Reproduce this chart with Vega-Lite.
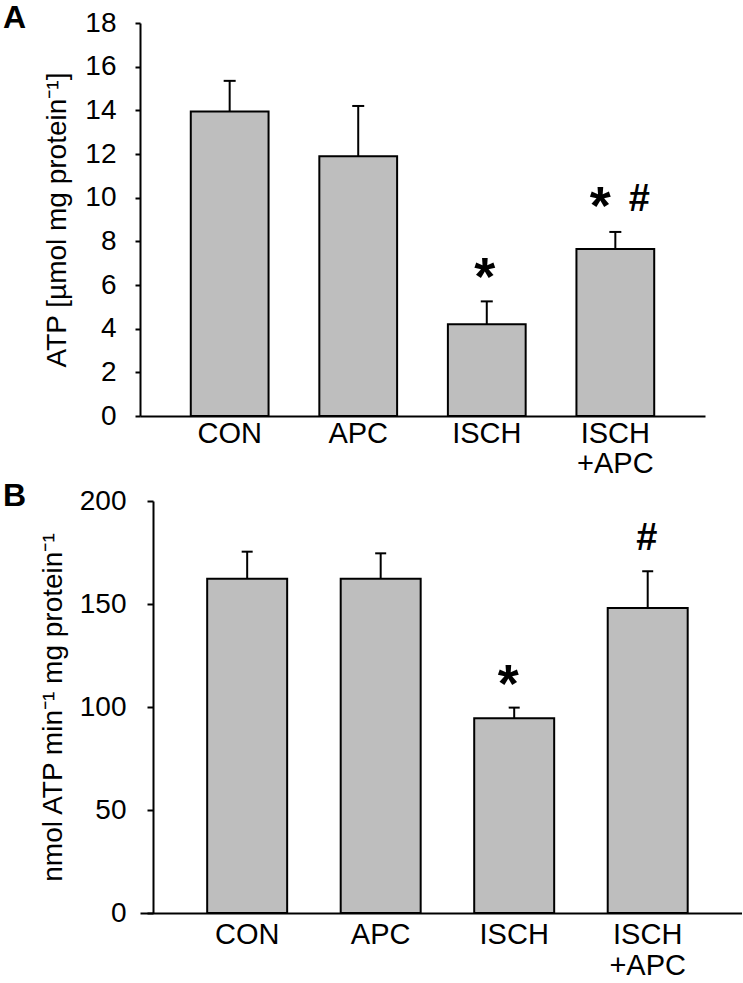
{
  "$schema": "https://vega.github.io/schema/vega-lite/v6.json",
  "padding": {"left": 3, "top": 2, "right": 0, "bottom": 0},
  "spacing": 2,
  "config": {
    "view": {"stroke": null},
    "font": "Liberation Sans",
    "axis": {
      "grid": false,
      "domainColor": "#000",
      "domainWidth": 2,
      "tickColor": "#000",
      "tickWidth": 2,
      "labelColor": "#000",
      "titleColor": "#000",
      "labelFont": "Liberation Sans",
      "titleFont": "Liberation Sans",
      "labelFontSize": 28,
      "titleFontSize": 28,
      "titleFontWeight": "normal"
    }
  },
  "datasets": {
    "atp": [
      {"group": "CON", "mean": 13.95, "upper": 15.35, "note": ""},
      {"group": "APC", "mean": 11.9, "upper": 14.2, "note": ""},
      {"group": "ISCH", "mean": 4.2, "upper": 5.25, "note": "*"},
      {"group": "ISCH+APC", "mean": 7.65, "upper": 8.43, "note": "* #"}
    ],
    "atpase": [
      {"group": "CON", "mean": 162.3, "upper": 175.4, "note": ""},
      {"group": "APC", "mean": 162.3, "upper": 174.6, "note": ""},
      {"group": "ISCH", "mean": 94.5, "upper": 99.7, "note": "*"},
      {"group": "ISCH+APC", "mean": 148.1, "upper": 165.9, "note": "#"}
    ]
  },
  "vconcat": [
    {
      "width": 565,
      "height": 393,
      "title": {"text": "A", "anchor": "start", "frame": "group", "dx": -137, "offset": -26, "fontSize": 32, "fontWeight": "bold", "color": "#000", "font": "Liberation Sans"},
      "data": {"name": "atp"},
      "encoding": {
        "x": {
          "field": "group", "type": "nominal", "sort": null,
          "scale": {"paddingInner": 0.395, "paddingOuter": 0.395},
          "axis": {"title": null, "labelAngle": 0, "ticks": false, "tickSize": 0, "labelPadding": 3, "labelBaseline": "top", "labelFontSize": 29, "labelLineHeight": 30,
                   "labelExpr": "datum.value == 'ISCH+APC' ? ['ISCH', '+APC'] : datum.value"}
        }
      },
      "layer": [
        {
          "mark": {"type": "bar", "fill": "#bebebe", "stroke": "#000", "strokeWidth": 2},
          "encoding": {
            "y": {"field": "mean", "type": "quantitative", "scale": {"domain": [0, 18], "nice": false},
                  "axis": {"title": "ATP [µmol mg protein⁻¹]", "values": [0, 2, 4, 6, 8, 10, 12, 14, 16, 18], "tickSize": 5, "labelPadding": 19, "titlePadding": 13}}
          }
        },
        {
          "mark": {"type": "rule", "color": "#000", "strokeWidth": 2},
          "encoding": {"y": {"field": "mean", "type": "quantitative"}, "y2": {"field": "upper"}}
        },
        {
          "mark": {"type": "tick", "color": "#000", "size": 12, "thickness": 2, "opacity": 1},
          "encoding": {"y": {"field": "upper", "type": "quantitative"}}
        },
        {
          "transform": [{"filter": "datum.note == '*'"}],
          "mark": {"type": "text", "text": "*", "fontSize": 54, "fontWeight": "bold", "baseline": "alphabetic", "dx": -2, "dy": -6, "color": "#000"},
          "encoding": {"y": {"field": "upper", "type": "quantitative"}}
        },
        {
          "transform": [{"filter": "datum.note == '* #'"}],
          "mark": {"type": "text", "text": "*", "fontSize": 54, "fontWeight": "bold", "baseline": "alphabetic", "dx": -15, "dy": -8, "color": "#000"},
          "encoding": {"y": {"field": "upper", "type": "quantitative"}}
        },
        {
          "transform": [{"filter": "datum.note == '* #'"}],
          "mark": {"type": "text", "text": "#", "fontSize": 38, "fontWeight": "bold", "baseline": "alphabetic", "dx": 24, "dy": -21, "color": "#000"},
          "encoding": {"y": {"field": "upper", "type": "quantitative"}}
        }
      ]
    },
    {
      "width": 602,
      "height": 412,
      "title": {"text": "B", "anchor": "start", "frame": "group", "dx": -137, "offset": -26, "fontSize": 32, "fontWeight": "bold", "color": "#000", "font": "Liberation Sans"},
      "data": {"name": "atpase"},
      "encoding": {
        "x": {
          "field": "group", "type": "nominal", "sort": null,
          "scale": {"paddingInner": 0.401, "paddingOuter": 0.455, "align": 0.553},
          "axis": {"title": null, "labelAngle": 0, "ticks": false, "tickSize": 0, "labelPadding": 7, "labelBaseline": "top", "labelFontSize": 29, "labelLineHeight": 31,
                   "labelExpr": "datum.value == 'ISCH+APC' ? ['ISCH', '+APC'] : datum.value"}
        }
      },
      "layer": [
        {
          "mark": {"type": "bar", "fill": "#bebebe", "stroke": "#000", "strokeWidth": 2},
          "encoding": {
            "y": {"field": "mean", "type": "quantitative", "scale": {"domain": [0, 200], "nice": false},
                  "axis": {"title": "nmol ATP min⁻¹  mg protein⁻¹", "values": [0, 50, 100, 150, 200], "offset": -13, "tickSize": 6, "labelPadding": 21, "titlePadding": 12}}
          }
        },
        {
          "mark": {"type": "rule", "color": "#000", "strokeWidth": 2},
          "encoding": {"y": {"field": "mean", "type": "quantitative"}, "y2": {"field": "upper"}}
        },
        {
          "mark": {"type": "tick", "color": "#000", "size": 11, "thickness": 2, "opacity": 1},
          "encoding": {"y": {"field": "upper", "type": "quantitative"}}
        },
        {
          "transform": [{"filter": "datum.note == '*'"}],
          "mark": {"type": "text", "text": "*", "fontSize": 54, "fontWeight": "bold", "baseline": "alphabetic", "dx": -6, "dy": -6, "color": "#000"},
          "encoding": {"y": {"field": "upper", "type": "quantitative"}}
        },
        {
          "transform": [{"filter": "datum.note == '#'"}],
          "mark": {"type": "text", "text": "#", "fontSize": 38, "fontWeight": "bold", "baseline": "alphabetic", "dx": -1, "dy": -21, "color": "#000"},
          "encoding": {"y": {"field": "upper", "type": "quantitative"}}
        }
      ]
    }
  ]
}
